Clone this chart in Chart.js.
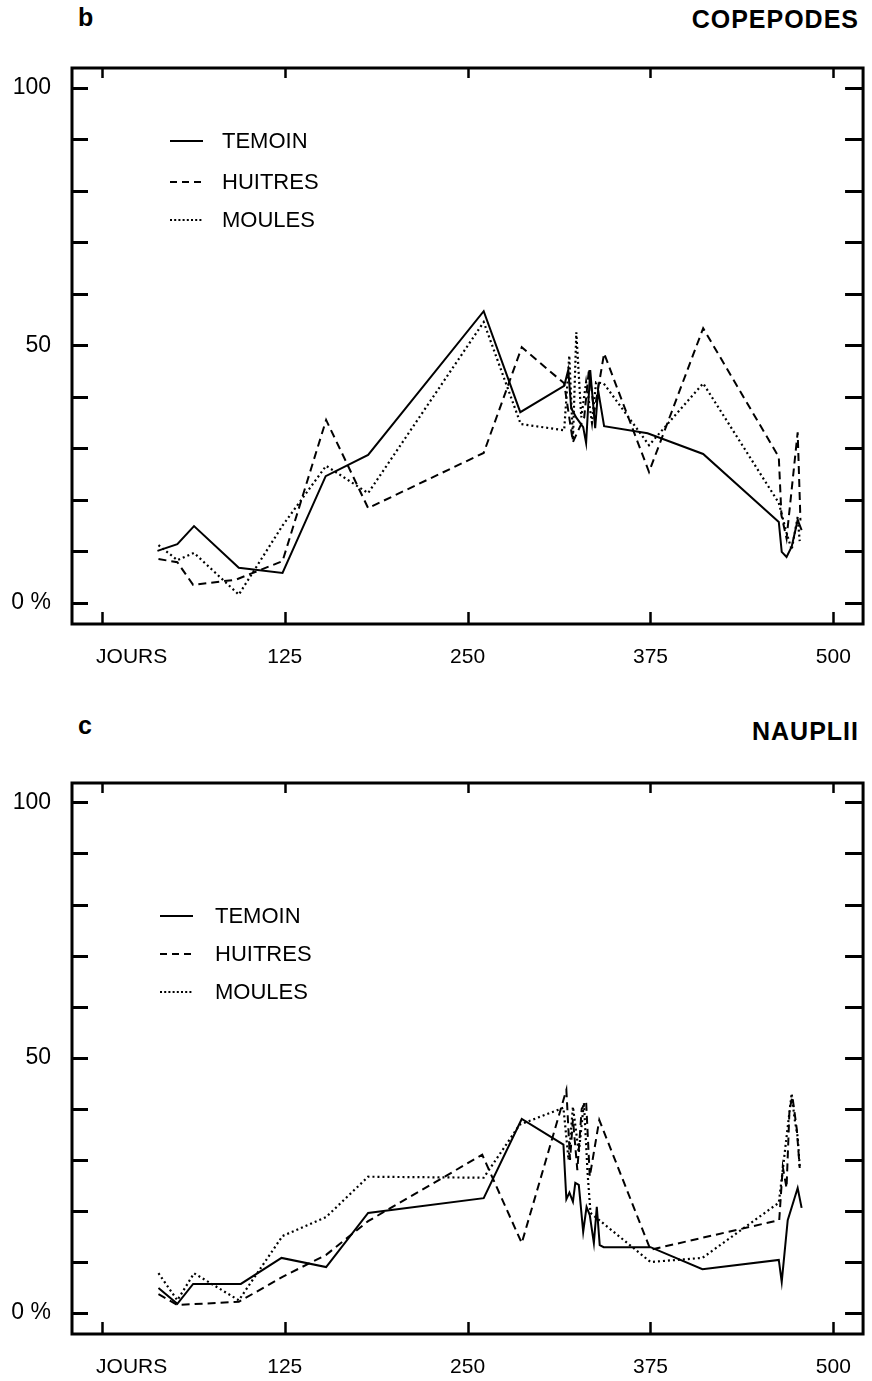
<!DOCTYPE html>
<html>
<head>
<meta charset="utf-8">
<script src="https://cdn.jsdelivr.net/npm/chart.js@4.4.1/dist/chart.umd.min.js"></script>
<style>
  html, body { margin:0; padding:0; background:#fff; }
  body { width:872px; height:1381px; position:relative; overflow:hidden; font-family:"Liberation Sans", Arial, sans-serif; color:#000; }
  canvas { position:absolute; left:0; }
  .t { position:absolute; line-height:1; white-space:nowrap; }
  .title { font-weight:bold; font-size:25px; letter-spacing:1px; }
  .leg { font-size:22px; }
  svg.s { position:absolute; overflow:visible; }
</style>
</head>
<body>
<div class="t title" style="left:78px; top:5px;">b</div>
<div class="t title" style="right:13px; top:7px;">COPEPODES</div>
<div class="t title" style="left:78px; top:713px;">c</div>
<div class="t title" style="right:13px; top:719px;">NAUPLII</div>

<canvas id="cop" width="872" height="690" style="top:0px"></canvas>
<canvas id="nau" width="872" height="691" style="top:690px"></canvas>

<div id="legCop"></div>
<div id="legNau"></div>

<script>
// ---------------- DATA ----------------
const seriesNames = ["TEMOIN", "HUITRES", "MOULES"];
const xTickValues = [0, 125, 250, 375, 500];
const xLabelValues = [20.4, 125, 250, 375, 500];
const xTickLabels = ["JOURS", "125", "250", "375", "500"];
const yTickValues = [0, 50, 100];
const yTickLabels = ["0 %", "50", "100"];

// COPEPODES (panel b)
const copTemoinDays = [38, 51.6, 63, 93.6, 123.5, 153, 182, 261, 286, 316, 318.8, 320.8, 324.2, 329, 331, 333.8, 337.2, 339.2, 343.3, 373, 411, 462.7, 464.7, 468, 471.5, 475.6, 478.3];
const copTemoinPct  = [10.1, 11.4, 14.9, 6.8, 5.8, 24.6, 28.7, 56.6, 37.0, 42.1, 45.2, 37.8, 36.0, 34.1, 31.0, 45.2, 33.9, 41.3, 34.3, 32.9, 28.9, 15.7, 9.9, 8.9, 10.9, 16.1, 14.1];

const copHuitresDays = [38.7, 51.6, 62.4, 91.6, 123.5, 153.3, 182, 261, 287, 316, 322, 329.7, 333, 336.5, 343.3, 374, 411, 462.7, 464.5, 468, 475.6, 477.5];
const copHuitresPct  = [8.5, 7.9, 3.5, 4.5, 8.1, 35.5, 18.4, 29.1, 49.6, 42.6, 31.2, 36, 45.5, 37, 48.4, 25.4, 53.3, 28.3, 17, 12.5, 33.1, 16];

const copMoulesDays = [38.7, 51.6, 63, 93.6, 123.5, 153.3, 182, 261, 286.3, 316, 319.5, 322, 324.3, 327.7, 331, 335, 337.8, 343, 374, 411, 462.7, 468, 471.5, 475.6, 477];
const copMoulesPct  = [11.2, 8.3, 9.7, 1.6, 15, 26.6, 21.3, 54.5, 34.7, 33.5, 48, 31.6, 52.5, 36, 42.8, 35, 42.8, 42.6, 30.6, 42.6, 19.4, 13.6, 10.3, 16.7, 12];

// NAUPLII (panel c)
const nauTemoinDays = [38.7, 51.6, 62.4, 95, 122.8, 153.3, 182, 261, 287, 315.5, 317.5, 319.6, 322, 323.6, 326, 329, 331.3, 333.5, 336.3, 338.3, 340.3, 343, 375, 410.5, 462.7, 464.7, 468.8, 475.6, 478.3];
const nauTemoinPct  = [4.9, 1.8, 5.7, 5.7, 10.8, 9.0, 19.6, 22.5, 38.0, 33, 22.3, 23.6, 21.8, 25.5, 25.1, 15.9, 20.8, 19.2, 13.7, 20.8, 13.3, 12.9, 12.9, 8.6, 10.4, 6.1, 18.2, 24.5, 20.6];

const nauHuitresDays = [38.7, 51.6, 93.6, 123.5, 153.3, 182, 260, 287, 317.5, 320, 322, 325, 328, 331, 333.5, 340, 375, 463, 465.4, 468, 470, 472, 475, 477];
const nauHuitresPct  = [3.7, 1.6, 2.2, 7.1, 11.4, 18, 31, 13.7, 43.7, 30, 38, 28, 40, 41.4, 26.7, 37.8, 12.4, 18.2, 28.6, 24.5, 39.8, 42.4, 36, 28.4];

const nauMoulesDays = [38.7, 51.6, 63, 93.6, 123.5, 153.3, 182, 261, 285.6, 315.5, 319, 322, 326, 329.5, 332, 334, 340, 375, 410.5, 462.7, 465, 468, 471.5, 473.5, 475.6, 477];
const nauMoulesPct  = [7.8, 2.5, 7.8, 2.5, 15.1, 18.8, 26.7, 26.5, 36.9, 40.2, 30, 40.4, 31.4, 41.2, 27.4, 19.6, 18.2, 10, 10.8, 21.6, 27, 34.5, 43, 38, 34.5, 28.6];

// ---------------- STYLE ----------------
const styles = [
  { borderDash: [], borderWidth: 2 },
  { borderDash: [8, 5], borderWidth: 2 },
  { borderDash: [2, 3], borderWidth: 2.2 }
];

Chart.defaults.font.family = '"Liberation Sans", Arial, sans-serif';
Chart.defaults.color = '#000';

function pts(days, vals) { return days.map((d, i) => ({ x: d, y: vals[i] })); }

const frame = {
  id: 'frame',
  afterDraw(chart) {
    const { ctx, chartArea: a, scales: { x, y } } = chart;
    ctx.save();
    ctx.strokeStyle = '#000';
    ctx.lineWidth = 3;
    ctx.strokeRect(a.left, a.top, a.right - a.left, a.bottom - a.top);
    ctx.beginPath();
    for (let v = 0; v <= 100; v += 10) {
      const py = Math.round(y.getPixelForValue(v)) + 0.5;
      ctx.moveTo(a.left, py); ctx.lineTo(a.left + 16, py);
      ctx.moveTo(a.right - 18, py); ctx.lineTo(a.right, py);
    }
    ctx.stroke();
    ctx.lineWidth = 2.5;
    ctx.beginPath();
    xTickValues.forEach(v => {
      const px = Math.round(x.getPixelForValue(v)) + 0.5;
      ctx.moveTo(px, a.top); ctx.lineTo(px, a.top + 10);
      ctx.moveTo(px, a.bottom); ctx.lineTo(px, a.bottom - 12);
    });
    ctx.stroke();
    ctx.restore();
  }
};

function makeChart(id, sets, padTop, xAxisH) {
  return new Chart(document.getElementById(id), {
    type: 'line',
    data: {
      datasets: sets.map((s, i) => ({
        label: seriesNames[i],
        data: pts(s[0], s[1]),
        borderColor: '#000',
        backgroundColor: '#000',
        borderWidth: styles[i].borderWidth,
        borderDash: styles[i].borderDash,
        pointRadius: 0,
        tension: 0,
        fill: false
      }))
    },
    options: {
      responsive: false,
      animation: false,
      events: [],
      layout: { padding: { top: padTop, right: 3, left: 0, bottom: 0 } },
      plugins: { legend: { display: false }, tooltip: { enabled: false }, title: { display: false } },
      scales: {
        x: {
          type: 'linear', min: -20.4, max: 520.3,
          grid: { display: false, drawTicks: false },
          border: { display: false },
          afterFit: s => { s.height = xAxisH; },
          afterBuildTicks: s => { s.ticks = xLabelValues.map(v => ({ value: v })); },
          ticks: {
            padding: 21,
            maxRotation: 0,
            autoSkip: false,
            font: { size: 21 },
            callback: (v) => { const i = xLabelValues.indexOf(v); return i >= 0 ? xTickLabels[i] : ''; }
          }
        },
        y: {
          type: 'linear', min: -4.1, max: 103.8,
          grid: { display: false, drawTicks: false },
          border: { display: false },
          afterFit: s => { s.width = 72; },
          afterBuildTicks: s => { s.ticks = yTickValues.map(v => ({ value: v })); },
          ticks: {
            padding: 21,
            font: { size: 23 },
            callback: (v) => { const i = yTickValues.indexOf(v); return i >= 0 ? yTickLabels[i] : ''; }
          }
        }
      }
    },
    plugins: [frame]
  });
}

makeChart('cop', [[copTemoinDays, copTemoinPct], [copHuitresDays, copHuitresPct], [copMoulesDays, copMoulesPct]], 68, 66);
makeChart('nau', [[nauTemoinDays, nauTemoinPct], [nauHuitresDays, nauHuitresPct], [nauMoulesDays, nauMoulesPct]], 93, 47);

// ---------------- LEGENDS ----------------
function legend(elId, lineX, lineW, textX, centers) {
  const el = document.getElementById(elId);
  let html = '';
  seriesNames.forEach((n, i) => {
    const c = centers[i];
    const dash = styles[i].borderDash.length ? `stroke-dasharray="${i === 1 ? '7,5' : '2,2.2'}"` : '';
    html += `<svg class="s" style="left:${lineX}px; top:${c - 3}px" width="${lineW}" height="6"><line x1="0" y1="3" x2="${lineW}" y2="3" stroke="#000" stroke-width="2" ${dash}/></svg>`;
    html += `<div class="t leg" style="left:${textX}px; top:${c - 11}px">${n}</div>`;
  });
  el.innerHTML = html;
}
legend('legCop', 170, 33, 222, [141, 182, 220]);
legend('legNau', 160, 33, 215, [916, 954, 992]);
</script>
</body>
</html>
